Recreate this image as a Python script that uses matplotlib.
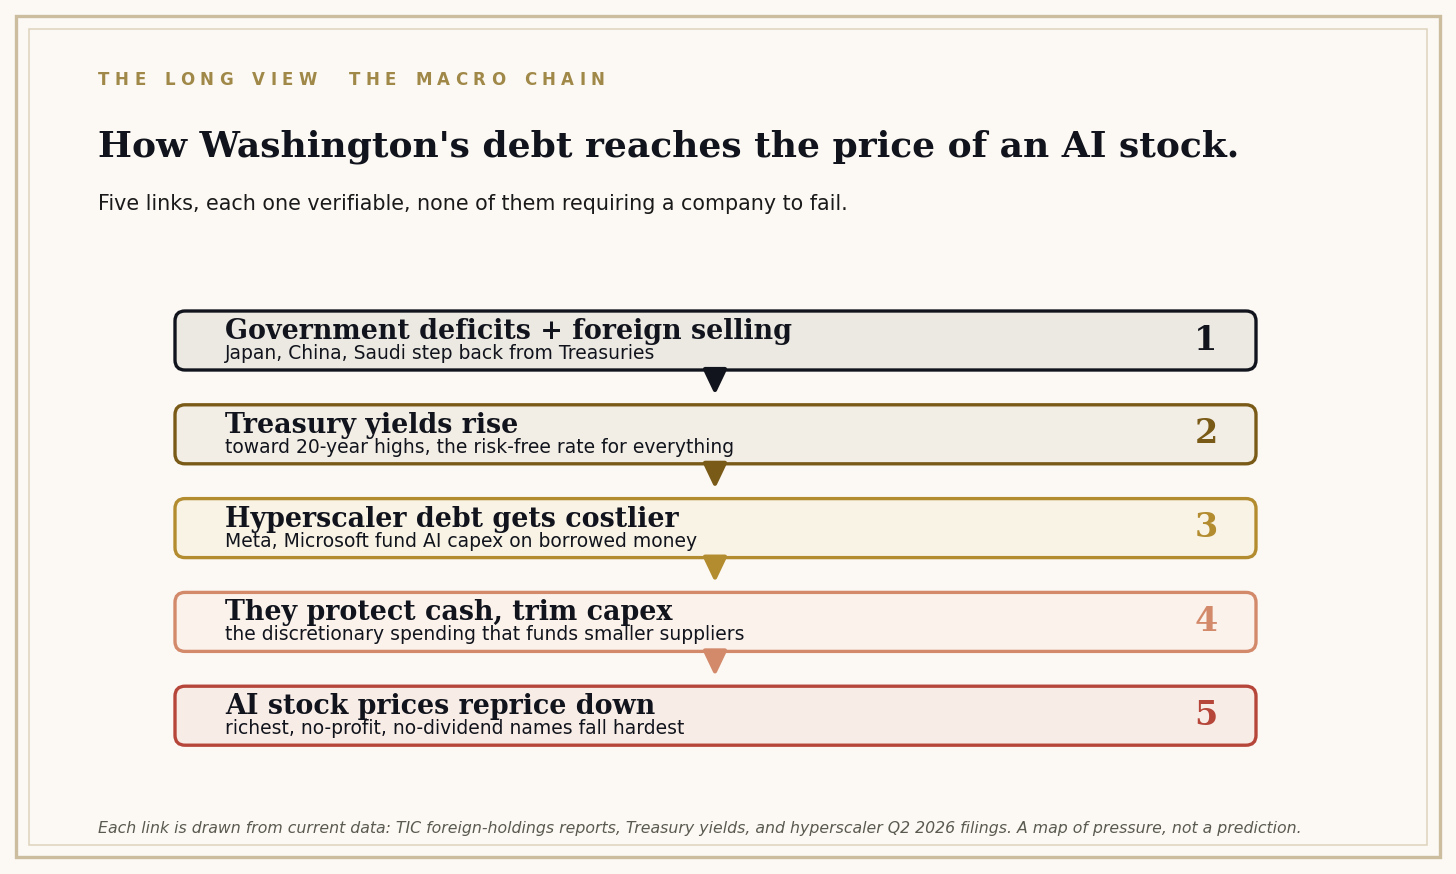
import matplotlib
matplotlib.use("Agg")
import matplotlib.pyplot as plt
from matplotlib.patches import FancyBboxPatch, Polygon, Rectangle

# ---- data ----
kicker_left = "THE LONG VIEW"
kicker_right = "THE MACRO CHAIN"
title = "How Washington's debt reaches the price of an AI stock."
subtitle = "Five links, each one verifiable, none of them requiring a company to fail."
step_numbers = ["1", "2", "3", "4", "5"]
step_titles = [
    "Government deficits + foreign selling",
    "Treasury yields rise",
    "Hyperscaler debt gets costlier",
    "They protect cash, trim capex",
    "AI stock prices reprice down",
]
step_details = [
    "Japan, China, Saudi step back from Treasuries",
    "toward 20-year highs, the risk-free rate for everything",
    "Meta, Microsoft fund AI capex on borrowed money",
    "the discretionary spending that funds smaller suppliers",
    "richest, no-profit, no-dividend names fall hardest",
]
edge_colors = ["#11141C", "#7A5A17", "#B38C30", "#D38A6B", "#B6463A"]
face_colors = ["#ECE9E3", "#F2EDE5", "#F9F3E6", "#FBF2EC", "#F8ECE7"]
footnote = ("Each link is drawn from current data: TIC foreign-holdings reports, Treasury yields, "
            "and hyperscaler Q2 2026 filings. A map of pressure, not a prediction.")

BG = "#FCF9F4"
W, H = 1456, 874

fig = plt.figure(figsize=(W / 100, H / 100), dpi=100, facecolor=BG)
ax = fig.add_axes([0, 0, 1, 1])
ax.set_xlim(0, W)
ax.set_ylim(H, 0)
ax.axis("off")
ax.set_facecolor(BG)

# frames
ax.add_patch(Rectangle((16, 16), 1424, 841, fill=False, ec="#CBBD9E", lw=2.4))
ax.add_patch(Rectangle((29, 29), 1398, 816, fill=False, ec="#DDD2BC", lw=1.1))

# letter-spaced kicker, placed glyph by glyph
renderer = fig.canvas.get_renderer()
kick = kicker_left + "  " + kicker_right
tracking = 5.4
space_w = 8.0
x = 98.0
for ch in kick:
    if ch == " ":
        x += space_w + tracking
        continue
    t = ax.text(x, 80, ch, fontsize=12, fontweight="bold", color="#A08848",
                family="DejaVu Sans", va="center", ha="left")
    bb = t.get_window_extent(renderer=renderer)
    x += bb.width + tracking

ax.text(98, 147, title, fontsize=25.9, fontweight="bold", color="#11141C",
        family="DejaVu Serif", va="center", ha="left")
ax.text(98, 204, subtitle, fontsize=14.9, color="#1A1A1A",
        family="DejaVu Sans", va="center", ha="left")

x0, x1 = 175, 1256
top0, step, bh = 311, 93.8, 59
cx = 715
for i in range(len(step_titles)):
    top = top0 + i * step
    ax.add_patch(FancyBboxPatch((x0, top), x1 - x0, bh,
                                boxstyle="round,pad=0,rounding_size=10",
                                fc=face_colors[i], ec=edge_colors[i], lw=2.4, zorder=2))
    ax.text(225, top + 28, step_titles[i], fontsize=19.4, fontweight="bold",
            color="#11141C", family="DejaVu Serif", va="baseline", ha="left", zorder=4)
    ax.text(225, top + 48, step_details[i], fontsize=13.5, color="#11141C",
            family="DejaVu Sans", va="baseline", ha="left", zorder=4)
    ax.text(1206, top + 29, step_numbers[i], fontsize=24, fontweight="bold",
            color=edge_colors[i], family="DejaVu Serif", va="center", ha="center", zorder=4)
    if i < len(step_titles) - 1:
        yb = top + bh
        tri = Polygon([(cx - 10, yb - 1), (cx + 10, yb - 1), (cx, yb + 20)], closed=True,
                      fc=edge_colors[i], ec=edge_colors[i], lw=3, joinstyle="round", zorder=3)
        ax.add_patch(tri)

ax.text(98, 828, footnote, fontsize=11.35, style="italic", color="#5A5A50",
        family="DejaVu Sans", va="center", ha="left")

fig.savefig("out.png", dpi=100, facecolor=BG)
